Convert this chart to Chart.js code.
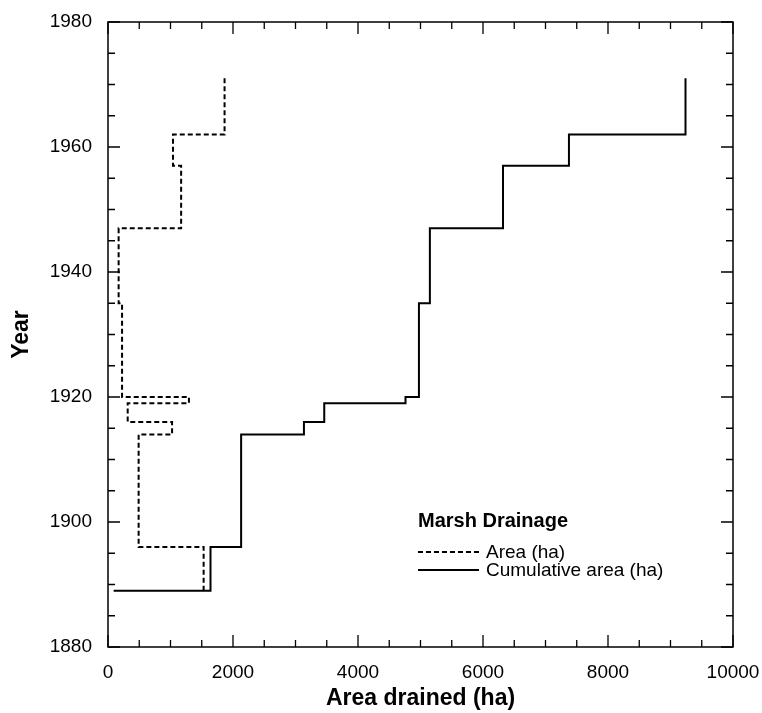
<!DOCTYPE html>
<html>
<head>
<meta charset="utf-8">
<script src="https://cdn.jsdelivr.net/npm/chart.js@4"></script>
<style>
  body { margin: 0; background: #fff; }
  #wrap { width: 762px; height: 713px; }
</style>
</head>
<body>
<div id="wrap"><canvas id="myChart"></canvas></div>
<script>
// year boundaries of each drainage period
const years = [1889, 1896, 1914, 1916, 1919, 1920, 1935, 1947, 1957, 1962, 1971]
// area drained in each period (ha)
const areaHa = [1530, 490, 1025, 315, 1295, 225, 170, 1170, 1040, 1865]
// cumulative area at each period (ha)
const cumulativeHa = [1640, 2130, 3135, 3460, 4760, 4975, 5150, 6320, 7375, 9240]
const cumulativeStartHa = 90
const xTicks = [0, 2000, 4000, 6000, 8000, 10000]
const yTicks = [1880, 1900, 1920, 1940, 1960, 1980]

const FONT = '"Liberation Sans", Arial, Helvetica, sans-serif'

// turn per-period values into a step path (value held between two years)
function steps(values, start){
    const pts = []
    if (start != null) pts.push({x: start, y: years[0]})
    values.forEach((v, i) => {
        pts.push({x: v, y: years[i]})
        pts.push({x: v, y: years[i + 1]})
    })
    return pts
}

// inward ticks on all four sides + frame
const frameTicks = {
    id: 'frameTicks',
    afterDatasetsDraw(chart){
        const {ctx, chartArea: a, scales: {x, y}} = chart
        ctx.save()
        ctx.strokeStyle = '#000'
        ctx.lineWidth = 1.5
        ctx.strokeRect(a.left, a.top, a.right - a.left, a.bottom - a.top)
        ctx.lineWidth = 1.3
        ctx.beginPath()
        for (let v = x.min; v <= x.max; v += 500){
            const len = v % 2000 === 0 ? 12 : 7
            const px = x.getPixelForValue(v)
            ctx.moveTo(px, a.bottom); ctx.lineTo(px, a.bottom - len)
            ctx.moveTo(px, a.top); ctx.lineTo(px, a.top + len)
        }
        for (let v = y.min; v <= y.max; v += 5){
            const len = v % 20 === 0 ? 12 : 7
            const py = y.getPixelForValue(v)
            ctx.moveTo(a.left, py); ctx.lineTo(a.left + len, py)
            ctx.moveTo(a.right, py); ctx.lineTo(a.right - len, py)
        }
        ctx.stroke()
        ctx.restore()
    }
}

// legend inside the plot
const boxLegend = {
    id: 'boxLegend',
    afterDraw(chart){
        const {ctx, chartArea: a} = chart
        const x0 = a.left + 310
        const y0 = a.top + 505
        ctx.save()
        ctx.fillStyle = '#000'
        ctx.textAlign = 'left'
        ctx.textBaseline = 'alphabetic'
        ctx.font = 'bold 20px ' + FONT
        ctx.fillText('Marsh Drainage', x0, y0)
        ctx.font = '19px ' + FONT
        ctx.textBaseline = 'middle'
        chart.data.datasets.forEach((ds, i) => {
            const yy = y0 + 25 + i * 18
            ctx.beginPath()
            ctx.setLineDash(ds.borderDash || [])
            ctx.lineWidth = ds.borderWidth
            ctx.strokeStyle = '#000'
            ctx.moveTo(x0, yy); ctx.lineTo(x0 + 61, yy)
            ctx.stroke()
            ctx.setLineDash([])
            ctx.fillText(ds.label, x0 + 68, yy + 1)
        })
        ctx.restore()
    }
}

const config = {
    type: 'scatter',
    data: {
        datasets: [{
            label: 'Area (ha)',
            data: steps(areaHa),
            showLine: true,
            borderColor: '#000',
            borderWidth: 2,
            borderDash: [5, 3],
            pointRadius: 0,
            fill: false
        }, {
            label: 'Cumulative area (ha)',
            data: steps(cumulativeHa, cumulativeStartHa),
            showLine: true,
            borderColor: '#000',
            borderWidth: 2,
            pointRadius: 0,
            fill: false
        }]
    },
    options: {
        responsive: true,
        maintainAspectRatio: false,
        animation: false,
        layout: {padding: {top: 22, right: 29, left: 0, bottom: 0}},
        plugins: {legend: {display: false}, tooltip: {enabled: false}},
        scales: {
            x: {
                type: 'linear', min: 0, max: 10000,
                afterBuildTicks: s => { s.ticks = xTicks.map(v => ({value: v})) },
                afterFit: s => { s.height = 66; s.paddingLeft = 0; s.paddingRight = 0 },
                grid: {display: false, drawTicks: false},
                border: {display: false},
                ticks: {color: '#000', padding: 14, maxRotation: 0, font: {family: FONT, size: 19},
                        callback: v => String(v)},
                title: {display: true, text: 'Area drained (ha)', color: '#000', padding: {top: 0, bottom: 1},
                        font: {family: FONT, size: 23, weight: 'bold'}}
            },
            y: {
                type: 'linear', min: 1880, max: 1980,
                afterBuildTicks: s => { s.ticks = yTicks.map(v => ({value: v})) },
                afterFit: s => { s.width = 108; s.paddingTop = 0; s.paddingBottom = 0 },
                grid: {display: false, drawTicks: false},
                border: {display: false},
                ticks: {color: '#000', padding: 16, font: {family: FONT, size: 19},
                        callback: v => String(v)},
                title: {display: true, text: 'Year', color: '#000', padding: {top: 8, bottom: 0},
                        font: {family: FONT, size: 23, weight: 'bold'}}
            }
        }
    },
    plugins: [frameTicks, boxLegend]
}

new Chart(document.getElementById('myChart'), config)
</script>
</body>
</html>
